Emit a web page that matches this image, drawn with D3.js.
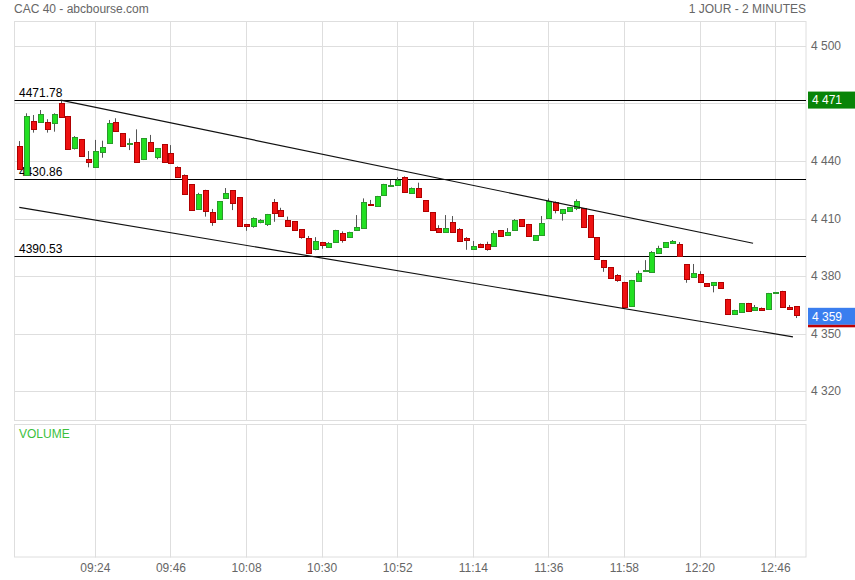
<!DOCTYPE html>
<html><head><meta charset="utf-8">
<script src="https://cdn.jsdelivr.net/npm/d3@7/dist/d3.min.js"></script>
<style>body{margin:0;background:#fff}svg{display:block}text{font-family:"Liberation Sans",Arial,sans-serif;font-size:12px}</style>
</head><body><svg id="c" width="855" height="580"></svg>
<script>
// ---- data ----
const opens  = [4447.8,4432.7,4460.7,4460.5,4460.2,4460.0,4470.1,4463.5,4446.6,4451.3,4440.9,4437.0,4444.9,4449.2,4460.2,4454.5,4448.7,4449.8,4440.9,4449.8,4441.9,4448.7,4444.0,4437.0,4432.9,4427.8,4414.8,4424.9,4413.2,4409.6,4420.9,4424.7,4421.1,4407.1,4406.2,4408.3,4407.3,4418.5,4414.4,4409.1,4408.5,4404.4,4399.8,4394.3,4397.7,4395.0,4397.6,4402.6,4400.5,4404.2,4405.2,4417.7,4416.7,4422.4,4427.4,4427.6,4431.5,4423.1,4425.8,4419.5,4413.2,4404.9,4403.1,4408.2,4404.4,4399.8,4394.2,4396.5,4396.7,4395.8,4403.8,4401.5,4404.2,4409.6,4407.1,4398.9,4401.5,4410.4,4418.8,4412.7,4414.1,4415.5,4415.3,4411.7,4400.2,4388.3,4384.5,4380.4,4376.9,4364.5,4377.6,4383.2,4381.9,4392.2,4395.0,4397.4,4396.5,4386.1,4379.3,4381.0,4376.2,4375.3,4376.7,4368.0,4360.0,4361.1,4365.9,4362.4,4363.1,4362.9,4371.2,4372.2,4363.8,4364.2];
const highs  = [4450.4,4464.9,4464.0,4466.6,4461.8,4464.9,4471.8,4463.5,4453.0,4451.5,4445.2,4451.0,4450.6,4461.4,4462.3,4454.6,4451.8,4456.5,4452.0,4453.6,4446.8,4448.8,4448.3,4437.2,4433.0,4428.0,4423.4,4425.0,4415.0,4419.1,4425.9,4424.8,4421.2,4407.2,4410.6,4409.7,4412.4,4420.2,4415.6,4411.0,4408.6,4404.5,4400.9,4400.3,4397.8,4397.7,4404.1,4403.3,4403.1,4411.8,4420.5,4419.7,4421.8,4428.1,4430.1,4431.5,4432.0,4426.2,4428.7,4419.6,4413.3,4406.5,4411.8,4411.3,4405.0,4400.3,4398.3,4397.0,4397.9,4403.6,4403.9,4405.0,4409.7,4409.7,4407.2,4401.3,4411.3,4420.5,4418.9,4414.9,4415.9,4420.0,4415.4,4411.8,4400.3,4388.4,4384.6,4381.0,4377.0,4378.0,4382.8,4388.3,4393.0,4395.8,4397.7,4398.8,4397.7,4386.2,4386.3,4382.5,4376.3,4376.8,4376.8,4368.1,4362.4,4365.9,4366.0,4364.9,4363.6,4371.2,4371.7,4372.3,4364.9,4364.3];
const lows   = [4435.3,4432.3,4454.8,4460.0,4454.8,4455.3,4462.5,4446.0,4446.0,4442.4,4436.7,4437.0,4441.7,4449.0,4455.5,4447.5,4445.7,4439.5,4440.5,4445.0,4440.9,4439.4,4438.7,4431.4,4422.7,4414.3,4414.7,4411.0,4406.2,4409.5,4420.8,4414.4,4406.1,4403.6,4405.2,4407.5,4406.1,4408.3,4411.4,4406.1,4403.9,4399.5,4392.0,4393.4,4394.2,4394.9,4397.5,4397.4,4400.0,4404.1,4405.1,4416.8,4416.6,4422.3,4427.0,4427.5,4423.6,4423.0,4421.0,4414.0,4404.1,4402.7,4403.0,4403.0,4398.0,4393.7,4393.9,4395.2,4393.2,4395.7,4400.9,4401.4,4404.1,4405.7,4400.8,4398.8,4401.4,4410.3,4412.7,4408.9,4414.0,4414.4,4405.3,4400.4,4388.6,4382.2,4378.7,4377.0,4363.5,4364.4,4377.5,4382.1,4381.8,4392.1,4394.9,4396.7,4390.3,4376.5,4379.2,4376.9,4374.5,4371.5,4373.4,4359.9,4359.9,4361.0,4361.5,4362.3,4361.9,4362.8,4371.1,4363.9,4362.5,4358.1];
const closes = [4435.7,4463.5,4456.5,4464.5,4456.9,4464.5,4462.8,4446.1,4452.7,4442.6,4439.6,4445.2,4447.1,4459.7,4455.8,4448.0,4449.3,4439.6,4451.8,4445.2,4446.6,4439.5,4438.8,4431.5,4422.8,4414.4,4422.8,4414.1,4408.3,4419.0,4423.1,4418.2,4406.2,4406.2,4410.1,4409.2,4412.3,4412.7,4411.5,4406.2,4404.0,4400.5,4392.2,4398.3,4396.3,4397.1,4404.0,4398.9,4403.0,4405.6,4418.6,4416.9,4421.7,4428.0,4427.6,4429.9,4423.7,4426.1,4421.1,4414.1,4404.2,4402.8,4404.9,4403.1,4398.1,4398.9,4395.7,4395.3,4394.2,4402.3,4401.0,4403.0,4409.2,4406.2,4400.9,4401.2,4407.5,4419.0,4414.4,4414.8,4415.8,4419.0,4405.4,4400.5,4388.7,4384.5,4378.8,4378.1,4364.0,4377.9,4381.4,4383.3,4392.5,4394.4,4397.6,4398.3,4390.4,4378.6,4381.4,4377.0,4374.6,4376.7,4373.7,4360.0,4362.3,4365.8,4361.6,4363.7,4362.3,4371.1,4371.6,4364.0,4362.6,4359.5];

const timeTickIndex  = [11,22,33,44,55,66,77,88,99,110];
const timeTickLabels = ["09:24","09:46","10:08","10:30","10:52","11:14","11:36","11:58","12:20","12:46"];
const priceGrid  = [4320,4350,4380,4410,4440,4470,4500];
const priceLabels = [4320,4350,4380,4410,4440,4500];
const levels = [4471.78, 4430.86, 4390.53];
const levelLabels = ["4471.78","4430.86","4390.53"];
const trendUpper = [[6,4471.78],[106.8,4397.1]];
const trendLower = [[0,4415.8],[112.6,4348.3]];
const lastPrice = 4359;
const highPrice = 4471;

// ---- layout ----
const L = 14.5, R = 806, T = 22, B = 421;
const VT = 425, VB = 557.5;
const svg = d3.select("#c");
const x = d3.scaleLinear().domain([-0.7, 114.5]).range([L, R]);
const y = d3.scaleLinear().domain([4304.4, 4512.5]).range([B, T]);
const crisp = v => Math.round(v) + 0.5;
const fmt = v => d3.format(",")(v).replace(/,/g, " ");
const grid = "#dedede";

// header
svg.append("text").attr("x", 14).attr("y", 13).attr("fill", "#666").text("CAC 40 - abcbourse.com");
svg.append("text").attr("x", 806).attr("y", 13).attr("text-anchor", "end").attr("fill", "#666").text("1 JOUR - 2 MINUTES");

// grid - main
const g = svg.append("g");
priceGrid.forEach(p => g.append("line").attr("x1", L).attr("x2", R).attr("y1", crisp(y(p))).attr("y2", crisp(y(p))).attr("stroke", grid));
timeTickIndex.forEach(i => {
  g.append("line").attr("x1", crisp(x(i))).attr("x2", crisp(x(i))).attr("y1", T).attr("y2", B).attr("stroke", grid);
  g.append("line").attr("x1", crisp(x(i))).attr("x2", crisp(x(i))).attr("y1", VT).attr("y2", VB).attr("stroke", grid);
});
g.append("rect").attr("x", L).attr("y", T - 0.5).attr("width", R - L).attr("height", B - T).attr("fill", "none").attr("stroke", grid);
g.append("rect").attr("x", L).attr("y", VT - 0.5).attr("width", R - L).attr("height", VB - VT).attr("fill", "none").attr("stroke", grid);

// y axis labels
const yAxis = d3.axisRight(y).tickValues(priceLabels).tickSize(0).tickPadding(5).tickFormat(fmt);
const ya = svg.append("g").attr("transform", `translate(${R},0)`).call(yAxis);
ya.select(".domain").remove();
ya.selectAll("text").attr("fill", "#666").style("font-size", "12px").style("font-family", '"Liberation Sans",Arial,sans-serif');

// x axis labels
const xAxis = d3.axisBottom(x).tickValues(timeTickIndex).tickSize(0).tickPadding(0).tickFormat((d, k) => timeTickLabels[k]);
const xa = svg.append("g").attr("transform", `translate(0,${VB + 6})`).call(xAxis);
xa.select(".domain").remove();
xa.selectAll("text").attr("fill", "#666").style("font-size", "12px").style("font-family", '"Liberation Sans",Arial,sans-serif');

// volume label
svg.append("text").attr("x", 19).attr("y", 438).attr("fill", "#3cbf3c").text("VOLUME");

// levels
levels.forEach((lv, k) => {
  svg.append("line").attr("x1", L).attr("x2", R).attr("y1", crisp(y(lv))).attr("y2", crisp(y(lv))).attr("stroke", "#000");
  svg.append("text").attr("x", 19).attr("y", y(lv) - 3).attr("fill", "#000").text(levelLabels[k]);
});

// candles
const cg = svg.append("g");
closes.forEach((c, i) => {
  const o = opens[i], up = c >= o;
  const cx = Math.round(x(i));
  cg.append("line").attr("x1", cx + 0.5).attr("x2", cx + 0.5).attr("y1", y(highs[i])).attr("y2", y(lows[i])).attr("stroke", "#555");
  const top = Math.round(y(Math.max(o, c))), bot = Math.round(y(Math.min(o, c)));
  cg.append("rect").attr("x", cx - 2 + 0.5).attr("y", top + 0.5).attr("width", 5).attr("height", Math.max(1, bot - top))
    .attr("fill", up ? "#22e022" : "#ee1111").attr("stroke", up ? "#2a9a2a" : "#b00000");
});

// trend lines
const line = d3.line().x(d => x(d[0])).y(d => y(d[1]));
[trendUpper, trendLower].forEach(t => svg.append("path").attr("d", line(t)).attr("fill", "none").attr("stroke", "#111").attr("stroke-width", 1.2));

// value boxes
function box(price, bg, txt) {
  const cy = y(price);
  svg.append("rect").attr("x", 808).attr("y", cy - 8.5).attr("width", 47).attr("height", 17).attr("fill", bg);
  svg.append("text").attr("x", 812).attr("y", cy).attr("dy", "0.35em").attr("fill", "#fff").text(txt);
  return cy;
}
box(highPrice + 0.78, "#088408", fmt(highPrice));
const cyLast = box(lastPrice, "#3a7eef", fmt(lastPrice));
svg.append("rect").attr("x", 808).attr("y", cyLast + 8.5).attr("width", 47).attr("height", 2.5).attr("fill", "#c00000");
</script></body></html>
